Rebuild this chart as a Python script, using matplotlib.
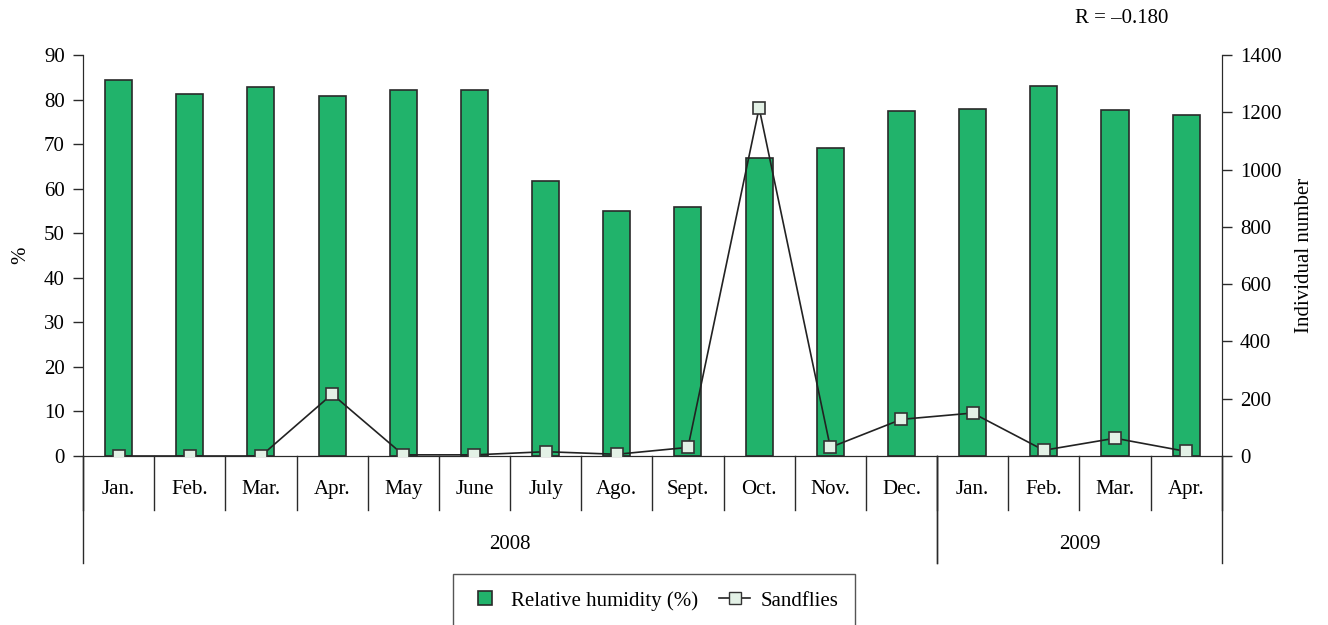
import numpy as np
import matplotlib.pyplot as plt
from matplotlib.lines import Line2D

months = ["Jan.", "Feb.", "Mar.", "Apr.", "May", "June", "July", "Ago.", "Sept.",
          "Oct.", "Nov.", "Dec.", "Jan.", "Feb.", "Mar.", "Apr."]
years = ["2008", "2009"]
year_counts = [12, 4]
humidity = [84.4, 81.2, 82.8, 80.8, 82.1, 82.1, 61.7, 55.0, 55.8,
            66.9, 69.1, 77.4, 77.9, 83.0, 77.6, 76.5]
sandflies = [0, 0, 0, 216, 4, 4, 15, 6, 30, 1215, 30, 128, 150, 20, 62, 16]

plt.rcParams['font.family'] = ['Liberation Serif', 'DejaVu Serif']
plt.rcParams['font.size'] = 15

bar_col = "#21b36b"
edge = "#2a2a2a"

fig = plt.figure(figsize=(13.28, 6.25), dpi=100)
ax = fig.add_axes([0.0625, 0.2704, 0.8575, 0.6416])
x = np.arange(len(months))
ax.bar(x, humidity, width=0.38, color=bar_col, edgecolor=edge, linewidth=1.2, zorder=2)
ax.set_xlim(-0.5, len(months) - 0.5)
ax.set_ylim(0, 90)
ax.set_yticks(range(0, 91, 10))
ax.set_xticks([])
ax.set_ylabel("%")
ax.yaxis.set_label_coords(-0.046, 0.5)

ax2 = ax.twinx()
ax2.plot(x, sandflies, color="#222222", linewidth=1.2, marker="s", markersize=9,
         markerfacecolor="#e3f1e6", markeredgecolor="#333333", markeredgewidth=1.2, zorder=3)
ax2.set_ylim(0, 1400)
ax2.set_yticks(range(0, 1401, 200))
ax2.set_ylabel("Individual number", labelpad=10)

for a in (ax, ax2):
    a.spines['top'].set_visible(False)
    a.spines['left'].set_color(edge)
    a.spines['right'].set_color(edge)
    a.spines['bottom'].set_color(edge)
    a.tick_params(axis='y', length=7, width=1, color=edge, pad=6)

# month / year category table under the axis
month_drop = -0.135
year_drop = -0.267
for xi in np.arange(-0.5, len(months)):
    ax.plot([xi, xi], [0, month_drop], transform=ax.get_xaxis_transform(),
            color=edge, linewidth=1, clip_on=False)
for i, m in enumerate(months):
    ax.text(i, -0.083, m, transform=ax.get_xaxis_transform(), ha='center', va='center')
start = -0.5
for yr, n in zip(years, year_counts):
    for xi in (start, start + n):
        ax.plot([xi, xi], [0, year_drop], transform=ax.get_xaxis_transform(),
                color=edge, linewidth=1, clip_on=False)
    ax.text(start + n / 2, -0.22, yr, transform=ax.get_xaxis_transform(),
            ha='center', va='center')
    start += n

fig.text(0.845, 0.971, "R = \u20130.180", ha='center', va='center')

handles = [Line2D([], [], linestyle='none', marker="s", markersize=10,
                  markerfacecolor=bar_col, markeredgecolor=edge, markeredgewidth=1.2),
           Line2D([], [], color="#222222", linewidth=1.2, marker="s", markersize=9,
                  markerfacecolor="#e3f1e6", markeredgecolor="#333333")]
leg = fig.legend(handles, ["Relative humidity (%)", "Sandflies"], loc='upper center',
                 bbox_to_anchor=(0.4925, 0.098), ncol=2, frameon=True, fancybox=False,
                 handlelength=1.5, handletextpad=0.5, columnspacing=1.0,
                 borderpad=0.8, borderaxespad=0.5, edgecolor=edge)
leg.get_frame().set_linewidth(1)

fig.savefig("out.png", dpi=100)
